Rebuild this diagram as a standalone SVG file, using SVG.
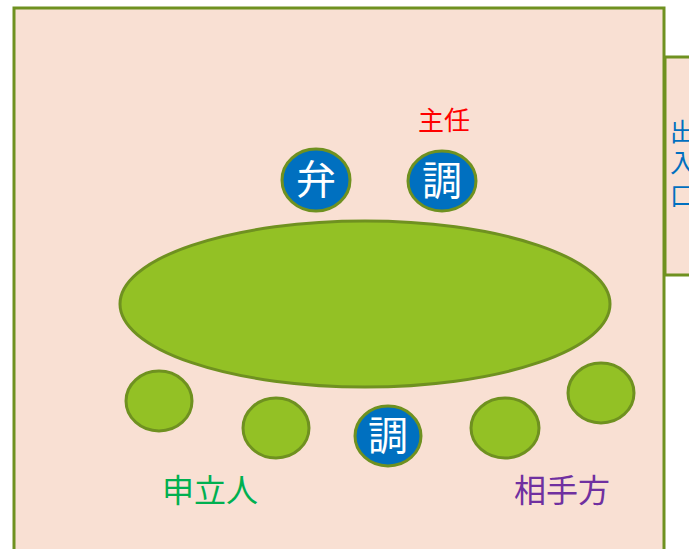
<svg xmlns="http://www.w3.org/2000/svg" width="689" height="549" viewBox="0 0 689 549">
<style>
.room{fill:#F9E0D3;stroke:#6F9120;stroke-width:3}
.seat{fill:#93C125;stroke:#6F9120;stroke-width:3}
.med{fill:#0070C0;stroke:#6F9120;stroke-width:3}
.t{font-family:"Noto Sans CJK JP","Noto Sans CJK SC",sans-serif}
.w{fill:#fff;font-size:40px;text-anchor:middle}
</style>
<rect width="689" height="549" fill="#fff"/>
<g id="room"><rect class="room" x="14" y="8" width="650" height="560"/></g>
<g id="entrance"><rect class="room" x="665" y="57" width="40" height="218"/>
<text class="t" font-size="25" fill="#0070C0" x="670" y="141">出</text>
<text class="t" font-size="25" fill="#0070C0" x="670" y="172">入</text>
<text class="t" font-size="25" fill="#0070C0" x="670" y="205">口</text></g>
<g id="table"><ellipse class="seat" cx="365" cy="304" rx="245" ry="83"/></g>
<g id="lawyer"><ellipse class="med" cx="316" cy="180" rx="34" ry="31"/><text class="t w" x="316" y="194">弁</text></g>
<g id="mediator-top"><ellipse class="med" cx="442" cy="181" rx="34" ry="30"/><text class="t w" x="442" y="195">調</text></g>
<g id="chief"><text class="t" font-size="26" fill="#FF0000" x="418" y="130">主任</text></g>
<g id="seat1"><ellipse class="seat" cx="159" cy="401" rx="33" ry="30"/></g>
<g id="seat2"><ellipse class="seat" cx="276" cy="428" rx="33" ry="30"/></g>
<g id="mediator-bottom"><ellipse class="med" cx="388" cy="436" rx="33" ry="30"/><text class="t w" x="388" y="450">調</text></g>
<g id="seat4"><ellipse class="seat" cx="505" cy="428" rx="34" ry="30"/></g>
<g id="seat5"><ellipse class="seat" cx="601" cy="393" rx="33" ry="30"/></g>
<g id="applicant"><text class="t" font-size="32" fill="#00B050" x="162" y="502">申立人</text></g>
<g id="respondent"><text class="t" font-size="32" fill="#7030A0" x="514" y="502">相手方</text></g>
<g id="connectors"></g>
</svg>
